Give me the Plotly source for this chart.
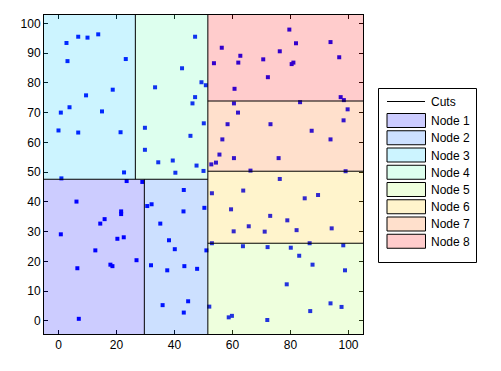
import plotly.graph_objects as go

# ---- data: sample points ----
xs = [2.75, 6.8, 10.0, 13.7, 3.1, 23.2, 18.7, 9.5, 3.8, 15.0, 0.8, 0.0, 6.8, 21.4, 22.6, 1.0,
      47.1, 42.6, 33.3, 49.3, 50.8, 47.1, 46.2, 50.1, 29.8, 45.5, 29.8, 34.4, 39.4, 47.6, 40.3, 50.0,
      79.6, 56.3, 81.9, 93.8, 62.7, 76.3, 53.6, 62.0, 70.6, 81.0, 80.4, 96.8, 72.2, 60.7, 97.3, 98.4,
      60.5, 83.3, 99.7, 61.9, 98.3, 58.3, 73.1, 87.3, 56.5, 93.8, 55.5, 60.5, 75.9, 52.7, 54.3, 66.2, 99.0,
      76.3, 52.9, 63.7, 89.5, 84.9, 59.5, 73.0, 78.9, 65.6, 60.4, 71.1, 82.1, 94.2, 52.9, 86.6,
      63.6, 72.1, 80.1, 98.2, 83.0, 87.6, 98.8, 78.7, 93.8, 97.6, 52.0, 86.8, 59.8, 58.7, 72.0,
      6.2, 0.8, 21.6, 21.6, 15.9, 14.4, 20.3, 22.5, 12.7, 26.9, 17.9, 18.6, 6.5, 7.0, 23.5, 28.9,
      30.6, 32.1, 43.2, 43.1, 50.3, 35.1, 38.1, 40.1, 51.0, 31.9, 37.5, 43.4, 47.8, 44.7, 35.9, 43.2]
ys = [93.4, 95.5, 95.2, 96.3, 87.3, 88.0, 77.7, 75.8, 71.8, 70.4, 70.0, 64.0, 63.3, 63.4, 49.9, 47.9,
      95.5, 84.9, 78.5, 80.2, 79.2, 75.2, 73.1, 66.4, 64.9, 62.2, 57.5, 53.3, 53.9, 52.2, 49.8, 50.4,
      97.9, 91.8, 93.3, 93.7, 89.1, 90.6, 86.6, 86.8, 87.9, 86.8, 86.3, 88.6, 81.9, 78.0, 75.2, 74.2,
      73.1, 73.5, 71.1, 70.0, 67.4, 66.1, 66.1, 63.9, 61.0, 61.0, 55.9, 54.7, 54.7, 52.6, 53.2, 50.5, 50.3,
      47.7, 42.9, 43.8, 42.3, 41.2, 37.5, 35.3, 33.8, 31.8, 30.1, 30.0, 30.5, 31.1, 26.1, 26.1,
      25.1, 24.8, 24.6, 25.4, 21.9, 18.9, 17.0, 12.3, 5.9, 4.7, 4.8, 3.3, 1.7, 1.2, 0.3,
      40.1, 29.1, 36.8, 35.9, 34.2, 32.7, 27.6, 28.1, 23.7, 20.4, 18.9, 18.4, 17.7, 0.7, 47.0, 46.7,
      38.6, 39.2, 44.0, 36.8, 38.0, 32.7, 27.1, 24.1, 23.7, 18.7, 17.0, 18.4, 17.5, 6.6, 5.3, 2.8]

# ---- data: cuts ----
x_range = [-5, 105]
y_range = [-4.4, 102.8]
x_main_cut = 51.5          # vertical cut over full height
y_left_cut = 47.6          # horizontal cut, left part
x_lower_left_cut = 29.6    # vertical cut, left-bottom
x_upper_left_cut = 26.5    # vertical cut, left-top
y_right_cuts = [26.1, 50.3, 73.9]  # horizontal cuts, right part

x_ticks = [0, 20, 40, 60, 80, 100]
y_ticks = [0, 10, 20, 30, 40, 50, 60, 70, 80, 90, 100]

node_names = ["Node 1", "Node 2", "Node 3", "Node 4", "Node 5", "Node 6", "Node 7", "Node 8"]
node_colors = ["rgb(0,0,255)", "rgb(0,100,255)", "rgb(0,200,255)", "rgb(85,255,170)",
               "rgb(170,255,85)", "rgb(255,200,0)", "rgb(255,100,0)", "rgb(255,0,0)"]
node_light = ["rgb(204,204,255)", "rgb(204,224,255)", "rgb(204,244,255)", "rgb(221,255,238)",
              "rgb(238,255,221)", "rgb(255,244,204)", "rgb(255,224,204)", "rgb(255,204,204)"]

# node rectangles from the cuts
x0, x1 = x_range
y0, y1 = y_range
regions = [
    (x0, x_lower_left_cut, y0, y_left_cut),
    (x_lower_left_cut, x_main_cut, y0, y_left_cut),
    (x0, x_upper_left_cut, y_left_cut, y1),
    (x_upper_left_cut, x_main_cut, y_left_cut, y1),
    (x_main_cut, x1, y0, y_right_cuts[0]),
    (x_main_cut, x1, y_right_cuts[0], y_right_cuts[1]),
    (x_main_cut, x1, y_right_cuts[1], y_right_cuts[2]),
    (x_main_cut, x1, y_right_cuts[2], y1),
]

W, H = 501, 371
ML, MR, MT, MB = 44, 138, 15, 37
PW, PH = W - ML - MR, H - MT - MB

fig = go.Figure()
fig.add_trace(go.Scatter(x=xs, y=ys, mode="markers",
                         marker=dict(symbol="square", size=4, color="rgb(0,0,255)", line=dict(width=0)),
                         showlegend=False, hoverinfo="skip"))

shapes = []
for (a, b, c, d), col in zip(regions, node_colors):
    shapes.append(dict(type="rect", xref="x", yref="y", x0=a, x1=b, y0=c, y1=d,
                       fillcolor=col, opacity=0.2, line=dict(width=0), layer="above"))

cut_lines = [(x_main_cut, x_main_cut, y0, y1),
             (x0, x_main_cut, y_left_cut, y_left_cut),
             (x_lower_left_cut, x_lower_left_cut, y0, y_left_cut),
             (x_upper_left_cut, x_upper_left_cut, y_left_cut, y1)]
for yc in y_right_cuts:
    cut_lines.append((x_main_cut, x1, yc, yc))
for a, b, c, d in cut_lines:
    shapes.append(dict(type="line", xref="x", yref="y", x0=a, x1=b, y0=c, y1=d,
                       line=dict(color="black", width=1), layer="above"))

# ---- manual legend (pixel -> paper) ----
def px(x):
    return (x - ML) / PW

def py(y):
    return (H - MB - y) / PH

annotations = []
shapes.append(dict(type="rect", xref="paper", yref="paper", x0=px(378.5), x1=px(476.5),
                   y0=py(262.5), y1=py(88.5), fillcolor="white", line=dict(color="black", width=1)))
shapes.append(dict(type="line", xref="paper", yref="paper", x0=px(387), x1=px(425),
                   y0=py(101.5), y1=py(101.5), line=dict(color="black", width=1)))
annotations.append(dict(x=px(429), y=py(101.5), xref="paper", yref="paper", text="Cuts",
                        showarrow=False, xanchor="left", yanchor="middle",
                        font=dict(size=12, color="black")))
for i, (name, col) in enumerate(zip(node_names, node_light)):
    top = 113.5 + i * 17.25
    shapes.append(dict(type="rect", xref="paper", yref="paper", x0=px(387), x1=px(425.5),
                       y0=py(top + 14), y1=py(top), fillcolor=col,
                       line=dict(color="black", width=1)))
    annotations.append(dict(x=px(429), y=py(top + 7.5), xref="paper", yref="paper", text=name,
                            showarrow=False, xanchor="left", yanchor="middle",
                            font=dict(size=12, color="black")))

axis_common = dict(showline=True, linecolor="black", linewidth=1, mirror="ticks",
                   ticks="inside", ticklen=4, tickcolor="black", showgrid=False, zeroline=False,
                   tickfont=dict(size=12, color="black"), automargin=False)

fig.update_layout(
    width=W, height=H,
    margin=dict(l=ML, r=MR, t=MT, b=MB, autoexpand=False),
    paper_bgcolor="white", plot_bgcolor="white",
    font=dict(family="Liberation Sans, Arial, sans-serif", size=12, color="black"),
    xaxis=dict(range=x_range, tickvals=x_ticks, **axis_common),
    yaxis=dict(range=y_range, tickvals=y_ticks, **axis_common),
    shapes=shapes, annotations=annotations, showlegend=False,
)

fig.write_html("out.html", config={"displayModeBar": False},
               post_script="document.body.style.margin='0';")
